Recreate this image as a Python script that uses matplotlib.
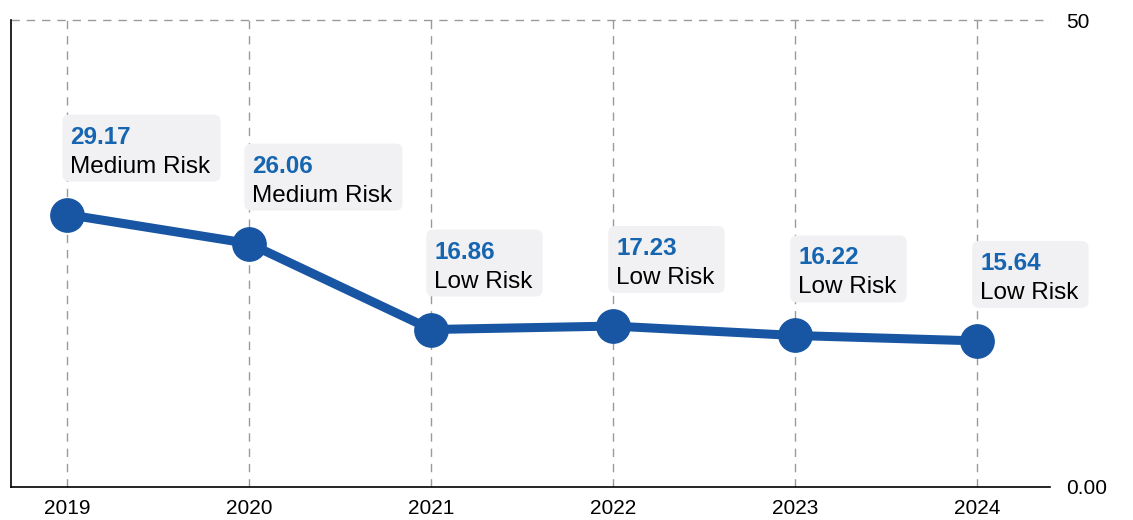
import matplotlib.pyplot as plt
from matplotlib.patches import FancyBboxPatch
from matplotlib.transforms import IdentityTransform

years = ['2019', '2020', '2021', '2022', '2023', '2024']
scores = [29.17, 26.06, 16.86, 17.23, 16.22, 15.64]
risk = ['Medium Risk', 'Medium Risk', 'Low Risk', 'Low Risk', 'Low Risk', 'Low Risk']

plt.rcParams['font.family'] = ['Liberation Sans', 'DejaVu Sans']

line_col = '#1856a3'
val_col = '#1565b0'
box_col = '#f1f1f3'
grid_col = '#9a9a9a'

fig = plt.figure(figsize=(11.33, 5.2), dpi=100)
ax = fig.add_axes([0.0097, 0.0635, 0.917, 0.898])

x = list(range(len(years)))
ax.plot(x, scores, color=line_col, lw=6.5, marker='o', ms=24, zorder=3, solid_capstyle='round')

ax.set_xlim(-0.31, 5.4)
ax.set_ylim(0, 50)
ax.set_xticks(x)
ax.set_xticklabels(years)
ax.set_yticks([0, 50])
ax.set_yticklabels(['0.00', '50'])
ax.yaxis.tick_right()
ax.tick_params(axis='both', length=0, labelsize=15)
ax.tick_params(axis='x', pad=9)
ax.tick_params(axis='y', pad=12)

for s in ['top', 'right']:
    ax.spines[s].set_visible(False)
ax.spines['left'].set_linewidth(1.2)
ax.spines['bottom'].set_linewidth(1.2)

for xi in x:
    ax.axvline(xi, color=grid_col, lw=1, ls=(0, (6, 5)), zorder=1)
ax.axhline(50, color=grid_col, lw=1, ls=(0, (6, 5)), zorder=1, clip_on=False)

fs = 17.5
labels = []
for xi, v, r in zip(x, scores, risk):
    t1 = ax.annotate(f'{v:.2f}', (xi, v), xytext=(3, 71), textcoords='offset pixels',
                     ha='left', va='baseline', fontsize=fs, color=val_col, fontweight='bold',
                     zorder=5, annotation_clip=False)
    t2 = ax.annotate(r, (xi, v), xytext=(3, 42), textcoords='offset pixels',
                     ha='left', va='baseline', fontsize=fs, color='black',
                     zorder=5, annotation_clip=False)
    labels.append((xi, v, t1, t2))

# rounded background boxes sized from the rendered text
fig.canvas.draw()
rend = fig.canvas.get_renderer()
for xi, v, t1, t2 in labels:
    px, py = ax.transData.transform((xi, v))
    right = max(t1.get_window_extent(rend).x1, t2.get_window_extent(rend).x1) + 10
    left = px - 5
    box = FancyBboxPatch((left, py + 33), right - left, 67,
                         boxstyle='round,pad=0,rounding_size=7', fc=box_col, ec='none',
                         transform=IdentityTransform(), zorder=4, clip_on=False)
    ax.add_artist(box)

fig.savefig('out.png', dpi=100)
